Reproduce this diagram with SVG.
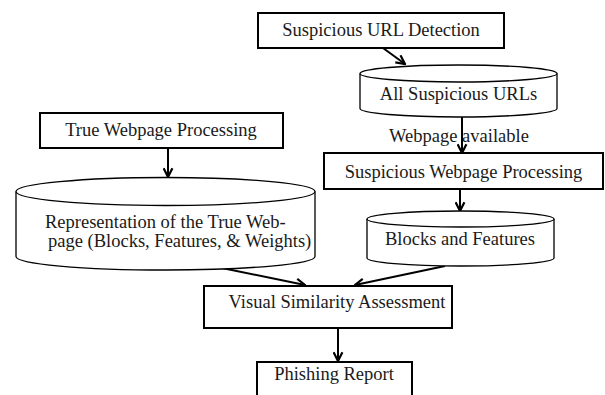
<svg xmlns="http://www.w3.org/2000/svg" width="605" height="395" viewBox="0 0 605 395">
  <style>
    .box { fill: #fff; stroke: #000; stroke-width: 2; }
    .cyl { fill: #fff; stroke: #000; stroke-width: 1.3; }
    .lbl { font-family: "Liberation Serif", "Times New Roman", serif; font-size: 18.5px; fill: #1a1a1a; }
    .mid { text-anchor: middle; }
    .edge { fill: none; stroke: #000; stroke-width: 2; }
  </style>
  <defs>
    <marker id="arrow" viewBox="0 0 10 10" refX="9" refY="5" markerWidth="11" markerHeight="11" markerUnits="userSpaceOnUse" orient="auto">
      <path d="M1,1 L9,5 L1,9" fill="none" stroke="#000" stroke-width="2"/>
    </marker>
  </defs>

  <rect width="605" height="395" fill="#fff"/>

  <!-- connectors -->
  <g id="connectors">
    <line class="edge" x1="383" y1="48" x2="405" y2="64" marker-end="url(#arrow)"/>
    <line class="edge" x1="462" y1="117" x2="462" y2="153" marker-end="url(#arrow)"/>
    <line class="edge" x1="460" y1="189" x2="460" y2="211" marker-end="url(#arrow)"/>
    <line class="edge" x1="168" y1="148" x2="168" y2="177" marker-end="url(#arrow)"/>
    <line class="edge" x1="222" y1="268" x2="305" y2="285" marker-end="url(#arrow)"/>
    <line class="edge" x1="445" y1="266" x2="355" y2="285" marker-end="url(#arrow)"/>
    <line class="edge" x1="338" y1="328" x2="338" y2="361" marker-end="url(#arrow)"/>
    <text class="lbl mid" x="459" y="142">Webpage available</text>
  </g>

  <g id="url-detection">
    <rect class="box" x="258" y="13" width="246" height="35"/>
    <text class="lbl mid" x="381" y="36">Suspicious URL Detection</text>
  </g>

  <g id="suspicious-urls">
    <path class="cyl" d="M360,73.5 L360,108.5 A98.5,8.5 0 0 0 557,108.5 L557,73.5"/>
    <ellipse class="cyl" cx="458.5" cy="73.5" rx="98.5" ry="8.5"/>
    <text class="lbl mid" x="458.5" y="100">All Suspicious URLs</text>
  </g>

  <g id="suspicious-processing">
    <rect class="box" x="324" y="153" width="279" height="36"/>
    <text class="lbl mid" x="463.5" y="178">Suspicious Webpage Processing</text>
  </g>

  <g id="blocks-features">
    <path class="cyl" d="M367,219 L367,258 A93.5,8 0 0 0 554,258 L554,219"/>
    <ellipse class="cyl" cx="460.5" cy="219" rx="93.5" ry="8"/>
    <text class="lbl mid" x="460" y="245">Blocks and Features</text>
  </g>

  <g id="true-processing">
    <rect class="box" x="40" y="113" width="243" height="35"/>
    <text class="lbl mid" x="161" y="136">True Webpage Processing</text>
  </g>

  <g id="true-representation">
    <path class="cyl" d="M16,191.5 L16,256.5 A149.5,13.5 0 0 0 315,256.5 L315,191.5"/>
    <ellipse class="cyl" cx="165.5" cy="191.5" rx="149.5" ry="14"/>
    <text class="lbl" x="45" y="228">Representation of the True Web-</text>
    <text class="lbl" x="48" y="247">page (Blocks, Features, &amp; Weights)</text>
  </g>

  <g id="visual-similarity">
    <rect class="box" x="204" y="286" width="248" height="42"/>
    <text class="lbl mid" x="337" y="308">Visual Similarity Assessment</text>
  </g>

  <g id="phishing-report">
    <rect class="box" x="257" y="362" width="155" height="36"/>
    <text class="lbl mid" x="334" y="380">Phishing Report</text>
  </g>
</svg>
